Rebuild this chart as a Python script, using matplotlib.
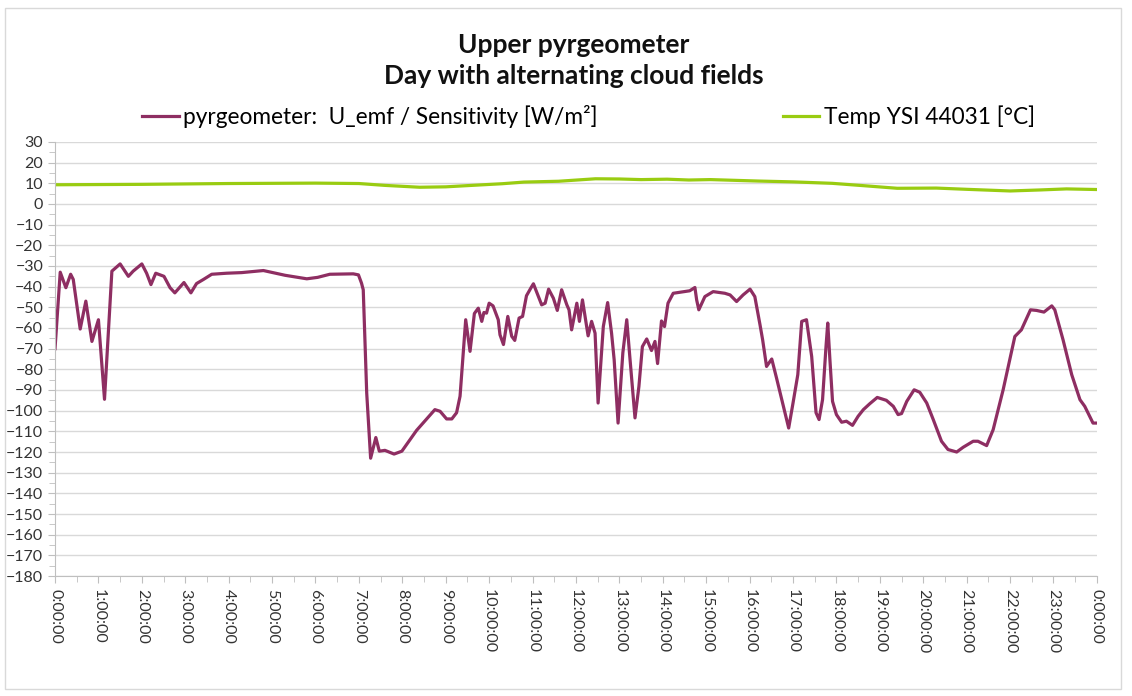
import matplotlib
matplotlib.use("Agg")
import matplotlib.pyplot as plt
from matplotlib.patches import Rectangle
from matplotlib.ticker import MultipleLocator, FuncFormatter

plt.rcParams['font.family'] = ['Lato', 'DejaVu Sans']

# pyrgeometer signal, hours of day vs W/m²
pyr_hours = [0.0, 0.12, 0.25, 0.36, 0.42, 0.58, 0.71, 0.85, 1.0, 1.14, 1.31, 1.5,
             1.69, 1.8, 2.0, 2.11, 2.21, 2.32, 2.51, 2.65, 2.76, 2.97, 3.13, 3.26,
             3.42, 3.61, 3.95, 4.3, 4.8, 5.3, 5.8, 6.05, 6.33, 6.87, 6.99, 7.06, 7.1, 7.18, 7.27,
             7.39, 7.47, 7.6, 7.81, 7.99, 8.18, 8.33, 8.56, 8.75, 8.87, 9.02, 9.14,
             9.25, 9.33, 9.46, 9.56, 9.66, 9.75, 9.83, 9.88, 9.94, 10.0, 10.09,
             10.21, 10.25, 10.33, 10.43, 10.52, 10.59, 10.69, 10.77, 10.86, 10.96,
             11.02, 11.09, 11.21, 11.29, 11.37, 11.48, 11.57, 11.67, 11.79, 11.84,
             11.9, 12.02, 12.08, 12.15, 12.28, 12.36, 12.44, 12.51, 12.63, 12.73,
             12.82, 12.88, 12.97, 13.08, 13.17, 13.24, 13.36, 13.45, 13.53, 13.63,
             13.74, 13.82, 13.88, 13.97, 14.04, 14.12, 14.24, 14.62, 14.74, 14.78,
             14.83, 14.97, 15.16, 15.43, 15.55, 15.7, 15.85, 16.01, 16.12, 16.24,
             16.3, 16.39, 16.51, 16.62, 16.76, 16.9, 17.0, 17.11, 17.2, 17.31,
             17.43, 17.53, 17.6, 17.68, 17.76, 17.8, 17.85, 17.91, 18.0, 18.12,
             18.23, 18.37, 18.5, 18.62, 18.77, 18.94, 19.15, 19.31, 19.42, 19.5,
             19.62, 19.79, 19.92, 20.08, 20.23, 20.42, 20.57, 20.77, 20.92, 21.15,
             21.26, 21.46, 21.61, 21.84, 22.11, 22.26, 22.47, 22.61, 22.78, 22.96,
             23.03, 23.22, 23.42, 23.61, 23.72, 23.91, 24.0]
pyr_values = [-70, -33, -40.5, -34, -36.5, -60.5, -47, -66.5, -56, -94.5, -32.5, -29,
              -35, -32.5, -29, -33.5, -39, -33.5, -35, -40.5, -43, -38, -43, -38.5,
              -36.5, -34, -33.5, -33.2, -32.2, -34.5, -36.2, -35.5, -34, -33.8, -34.3, -38.3, -41.5, -91.5, -123,
              -113, -119.6, -119.2, -121, -119.6, -114, -109.5, -104, -99.5, -100.3, -104, -104,
              -101, -93, -56, -71.3, -53, -50.4, -56.8, -52.5, -52.8, -48, -49.3,
              -56, -63.3, -68, -54.4, -64, -66, -55.2, -54.4, -44.4, -40.7,
              -38.6, -42.4, -48.8, -48, -41.2, -45.6, -51.5, -41.5, -48.8, -51.2,
              -60.9, -48, -56.8, -46.4, -63.8, -56.8, -62.5, -96.3, -59.3, -47.7,
              -62.5, -75.4, -106, -72, -56, -73.8, -103.5, -88.3, -69, -65.3,
              -70.9, -66.5, -77.2, -56.6, -59.3, -48, -43.2, -42, -40.4, -46.4,
              -51.2, -44.8, -42.4, -43.2, -44, -47.2, -44, -41.2, -44.8, -58.5,
              -65.7, -78.6, -75, -84.2, -96.3, -108.4, -96.3, -82.6, -56.8, -56,
              -73.8, -101, -104.3, -94.7, -68.9, -57.6, -75.4, -95.5, -101.9, -105.6,
              -105.1, -107.1, -102.7, -99.5, -96.6, -93.6, -95, -97.9, -101.9, -101.4,
              -95.5, -89.9, -91.1, -96.3, -104.3, -114.8, -118.8, -120, -117.7, -114.8,
              -114.8, -116.9, -109.2, -89.9, -64.1, -60.9, -51.2, -51.5, -52.3, -49.3,
              -51.2, -65.7, -82.6, -94.7, -97.9, -106, -106]

# sensor temperature, hours of day vs °C
temp_hours = [0.0, 1.0, 2.0, 3.0, 4.0, 5.0, 6.0, 7.0, 7.6, 8.4, 9.0, 9.6, 10.3,
              10.8, 11.6, 12.45, 13.0, 13.5, 14.1, 14.6, 15.1, 16.2, 17.0, 17.9,
              18.6, 19.4, 20.3, 21.0, 22.0, 22.7, 23.3, 24.0]
temp_values = [9.3, 9.4, 9.5, 9.7, 9.9, 10.0, 10.1, 9.9, 9.0, 8.1, 8.3, 9.0, 9.8,
               10.6, 11.0, 12.2, 12.1, 11.8, 12.0, 11.6, 11.8, 11.1, 10.7, 10.0,
               8.9, 7.6, 7.7, 7.1, 6.3, 6.8, 7.3, 7.0]

y_min, y_max = -180, 30
hour_ticks = list(range(0, 25))

fig = plt.figure(figsize=(11.32, 6.96), dpi=100)
ax = fig.add_axes([0.0486, 0.1724, 0.9204, 0.6236])

ax.plot(pyr_hours, pyr_values, color='#8E2E62', lw=2.3, solid_joinstyle='round',
        label='pyrgeometer:  U_emf / Sensitivity [W/m²]')
ax.plot(temp_hours, temp_values, color='#99CC11', lw=2.3,
        label='Temp YSI 44031 [°C]')

ax.set_xlim(0, 24)
ax.set_ylim(y_min, y_max)
ax.yaxis.set_major_locator(MultipleLocator(10))
ax.yaxis.set_minor_locator(MultipleLocator(5))
ax.set_xticks(hour_ticks)
ax.xaxis.set_minor_locator(MultipleLocator(0.5))
ax.xaxis.set_major_formatter(FuncFormatter(lambda v, p: f"{int(v) % 24}:00:00"))
for lab in ax.get_xticklabels():
    lab.set_rotation(-90)

ax.grid(axis='y', color='#D9D9D9', lw=1)
ax.set_axisbelow(True)
for s in ['top', 'right']:
    ax.spines[s].set_visible(False)
for s in ['left', 'bottom']:
    ax.spines[s].set_color('#BFBFBF')
ax.tick_params(axis='both', which='both', color='#BFBFBF', labelcolor='#333333',
               labelsize=11.5)
ax.tick_params(which='major', length=5)
ax.tick_params(which='minor', length=4)
ax.tick_params(axis='x', pad=4)

fig.text(0.507, 0.935, 'Upper pyrgeometer', ha='center', va='center',
         fontsize=19, fontweight='bold', color='#111111')
fig.text(0.507, 0.891, 'Day with alternating cloud fields', ha='center', va='center',
         fontsize=19, fontweight='bold', color='#111111')

fig.legend(loc='center', bbox_to_anchor=(0.52, 0.833), ncol=2, frameon=False,
           fontsize=16.3, handlelength=1.6, handletextpad=0.2, columnspacing=8.2)

fig.patches.append(Rectangle((0.004, 0.01), 0.986, 0.978, transform=fig.transFigure,
                             fill=False, edgecolor='#D9D9D9', lw=1))

fig.savefig('out.png', dpi=100)
